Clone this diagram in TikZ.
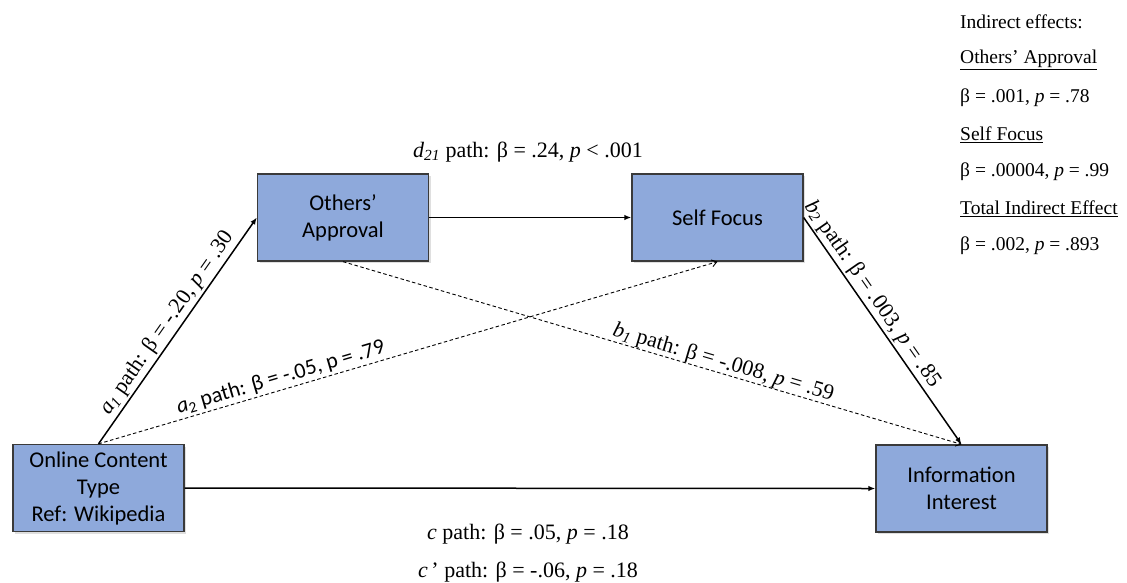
\documentclass[tikz,border=0pt]{standalone}
\usepackage{fontspec}
\setmainfont{Liberation Serif}
\newfontfamily\boxfont{Carlito}
\usetikzlibrary{positioning,arrows.meta,shadows}
\definecolor{BoxBlue}{HTML}{8EA9DB}
\definecolor{BoxLine}{HTML}{3A3A3A}

\begin{document}
\begin{tikzpicture}[x=1pt, y=-1pt,
  var/.style={draw=BoxLine, line width=1.3pt, fill=BoxBlue, align=center, minimum width=171pt, minimum height=87pt, font=\boxfont\fontsize{22.5}{27}\selectfont, inner sep=0pt, drop shadow={opacity=0.25, shadow xshift=2pt, shadow yshift=-2pt}},
  flow/.style={line width=1.5pt, -{Latex[length=7pt, width=5.5pt]}},
  dflow/.style={line width=0.9pt, dash pattern=on 3.5pt off 2.5pt, -{Straight Barb[length=5pt, width=7pt]}},
  lab/.style={font=\fontsize{22}{26}\selectfont, inner sep=2pt},
  note/.style={font=\fontsize{19.5}{22}\selectfont, anchor=west, inner sep=0pt}]
\useasboundingbox (0,0) rectangle (1127,582);
\node[var] (oct) at (98.5,488) {Online Content\\Type\\Ref: Wikipedia};
\node[var] (oa)  at (343,217.5) {Others’\\Approval};
\node[var] (sf)  at (717.5,217.5) {Self Focus};
\node[var] (ii)  at (961.5,488.5) {Information\\Interest};
\draw[flow] (oct.north) -- node[lab, sloped, above]{\textit{a\textsubscript{1}} path: β = -.20, \textit{p} = .30} (oa.west);
\draw[dflow] (oct.north) -- node[lab, sloped, above, pos=0.3, font=\boxfont\fontsize{22}{26}\selectfont]{\textit{a}\textsubscript{2} path: β = -.05, p = .79} (sf.south);
\draw[flow] (oa.east) -- (sf.west);
\draw[dflow] (oa.south) -- node[lab, sloped, above, pos=0.61, inner sep=0pt]{\textit{b\textsubscript{1}} path: β = -.008, \textit{p} = .59} (ii.north);
\draw[flow] (sf.east) -- node[lab, sloped, above, pos=0.37]{\textit{b\textsubscript{2}} path: β = .003, \textit{p} = .85} (ii.north);
\draw[flow] (oct.east) -- (ii.west);
\node[lab] (d21) at (528,152) {\textit{d\textsubscript{21}} path: β = .24, \textit{p} < .001};
\node[lab] (cpath) at (528,534) {\textit{c} path: β = .05, \textit{p} = .18};
\node[lab] (cprime) at (528,572) {\textit{c}\,’ path: β = -.06, \textit{p} = .18};
% indirect effects
\node[note] (ie)    at (960,22)  {Indirect effects:};
\node[note] (ieoa)  at (960,60)  {\underline{Others’ Approval}};
\node[note] (ieoav) at (960,98)  {β = .001, \textit{p} = .78};
\node[note] (iesf)  at (960,135) {\underline{Self Focus}};
\node[note] (iesfv) at (960,172) {β = .00004, \textit{p} = .99};
\node[note] (iet)   at (960,209) {\underline{Total Indirect Effect}};
\node[note] (ietv)  at (960,246) {β = .002, \textit{p} = .893};
\end{tikzpicture}
\end{document}
